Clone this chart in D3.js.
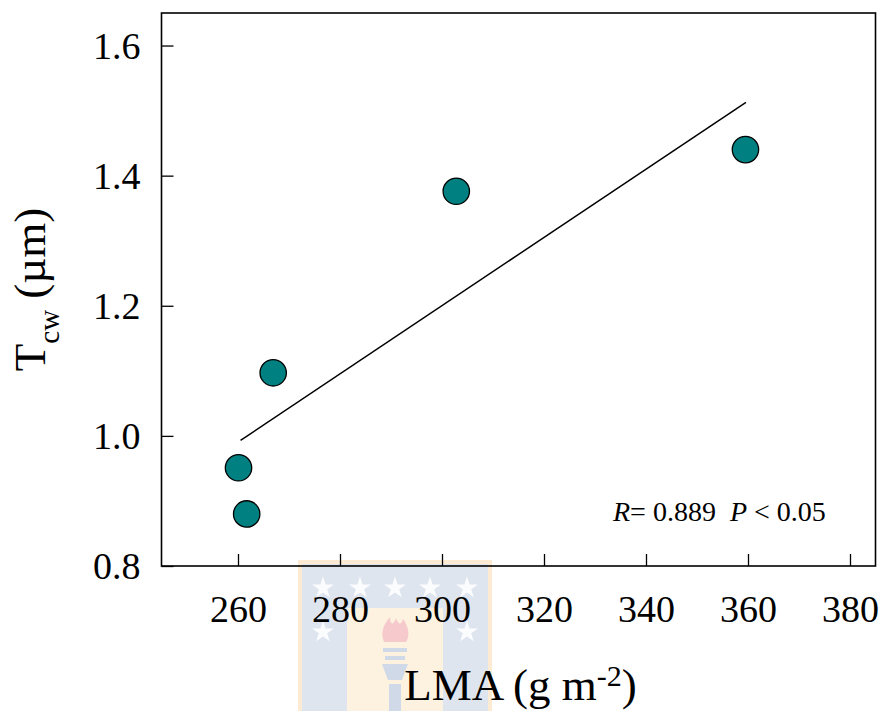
<!DOCTYPE html>
<html>
<head>
<meta charset="utf-8">
<script src="https://cdn.jsdelivr.net/npm/d3@7"></script>
<style>
  html, body { margin: 0; padding: 0; background: #fff; }
  svg, svg text { font-family: "Liberation Serif", "Times New Roman", serif; }
  svg { display: block; }
</style>
</head>
<body>
<svg id="chart" width="884" height="711"></svg>
<script>
// Leaf mass per area (g m-2) and cell wall thickness (µm)
const lma = [260.1, 261.7, 266.9, 302.8, 359.5];
const tcw = [0.951, 0.880, 1.097, 1.376, 1.440];
const xTicks = [260, 280, 300, 320, 340, 360, 380];
const yTicks = [0.8, 1.0, 1.2, 1.4, 1.6];
const statR = "0.889";
const statP = "0.05";

const serif = '"Liberation Serif", "Times New Roman", serif';
const svg = d3.select("#chart");
const plotL = 161.5, plotR = 875.5, plotT = 13, plotB = 566;

const x = d3.scaleLinear().domain([245, 385]).range([plotL, plotR]);
const y = d3.scaleLinear().domain([0.8, 1.65]).range([plotB, plotT]);

// Faint institutional emblem behind the x axis labels
const wm = svg.append("g").attr("class", "emblem");
wm.append("rect").attr("x", 298).attr("y", 560).attr("width", 194).attr("height", 151).attr("fill", "#fcebd2");
wm.append("rect").attr("x", 302).attr("y", 564).attr("width", 186).attr("height", 147).attr("fill", "#dfe5ee");
wm.append("rect").attr("x", 347).attr("y", 608).attr("width", 96).attr("height", 103).attr("fill", "#fdf1df");
const star = d3.symbol(d3.symbolStar, 150);
[[323, 588], [360, 588], [395, 588], [430, 588], [467, 588], [323, 632], [467, 632]].forEach(([sx, sy]) => {
  wm.append("path").attr("d", star()).attr("transform", `translate(${sx},${sy})`).attr("fill", "#fbfcfe");
});
wm.append("path")
  .attr("d", "M384,642 C380,632 384,624 390,617 C390,625 393,626 396,618 C398,624 401,626 403,619 C409,627 410,636 406,642 Z")
  .attr("fill", "#f6c9cc");
wm.append("rect").attr("x", 383).attr("y", 648).attr("width", 24).attr("height", 4).attr("fill", "#cfd9e7");
wm.append("rect").attr("x", 385).attr("y", 656).attr("width", 20).attr("height", 4).attr("fill", "#cfd9e7");
wm.append("path").attr("d", "M382,664 L408,664 L402,680 L388,680 Z").attr("fill", "#cfd9e7");
wm.append("rect").attr("x", 389).attr("y", 684).attr("width", 12).attr("height", 27).attr("fill", "#cfd9e7");

// Axes with inward ticks
const xAxis = svg.append("g")
  .attr("transform", `translate(0,${plotB})`)
  .call(d3.axisBottom(x).tickValues(xTicks).tickSizeInner(-12).tickSizeOuter(0).tickFormat(d3.format("d")));
xAxis.attr("font-family", null).attr("font-size", null);
xAxis.select(".domain").remove();
xAxis.selectAll(".tick line").attr("stroke", "#000").attr("stroke-width", 1.3);
xAxis.selectAll(".tick text")
  .attr("y", 56).attr("dy", 0)
  .attr("fill", "#000")
  .style("font-family", serif).style("font-size", "38px");

const yAxis = svg.append("g")
  .attr("transform", `translate(${plotL},0)`)
  .call(d3.axisLeft(y).tickValues(yTicks).tickSizeInner(-12).tickSizeOuter(0).tickFormat(d3.format(".1f")));
yAxis.attr("font-family", null).attr("font-size", null);
yAxis.select(".domain").remove();
yAxis.selectAll(".tick line").attr("stroke", "#000").attr("stroke-width", 1.3);
yAxis.selectAll(".tick text")
  .attr("x", -21).attr("dy", "0.34em")
  .attr("fill", "#000")
  .style("font-family", serif).style("font-size", "38px");

// Frame
svg.append("rect")
  .attr("x", plotL).attr("y", plotT)
  .attr("width", plotR - plotL).attr("height", plotB - plotT)
  .attr("fill", "none").attr("stroke", "#000").attr("stroke-width", 1.6);

// Least-squares fit across the observed LMA range
const mx = d3.mean(lma), my = d3.mean(tcw);
const sxy = d3.sum(lma, (v, i) => (v - mx) * (tcw[i] - my));
const sxx = d3.sum(lma, v => (v - mx) * (v - mx));
const slope = sxy / sxx, icpt = my - slope * mx;
const [x0, x1] = [260.5, 359.6];
svg.append("line")
  .attr("x1", x(x0)).attr("y1", y(icpt + slope * x0))
  .attr("x2", x(x1)).attr("y2", y(icpt + slope * x1))
  .attr("stroke", "#000").attr("stroke-width", 1.5);

// Points
svg.append("g").selectAll("circle")
  .data(lma.map((v, i) => ({ x: v, y: tcw[i] })))
  .join("circle")
  .attr("cx", d => x(d.x)).attr("cy", d => y(d.y))
  .attr("r", 13.2)
  .attr("fill", "#008080").attr("stroke", "#000").attr("stroke-width", 1.3);

// Correlation statistics
const stat = svg.append("text")
  .attr("x", 613).attr("y", 521)
  .attr("fill", "#000")
  .style("font-family", serif).style("font-size", "28px")
  .style("white-space", "pre");
stat.append("tspan").attr("font-style", "italic").text("R");
stat.append("tspan").text("= " + statR + "  ");
stat.append("tspan").attr("font-style", "italic").text("P");
stat.append("tspan").text(" < " + statP);

// Axis titles
const xt = svg.append("text")
  .attr("x", (plotL + plotR) / 2 + 2).attr("y", 700)
  .attr("text-anchor", "middle").attr("fill", "#000")
  .style("font-family", serif).style("font-size", "45px");
xt.append("tspan").text("LMA (g m");
xt.append("tspan").style("font-size", "30px").attr("dy", -14).text("-2");
xt.append("tspan").attr("dy", 14).text(")");

const yt = svg.append("text")
  .attr("transform", `translate(45,${(plotT + plotB) / 2}) rotate(-90)`)
  .attr("text-anchor", "middle").attr("fill", "#000")
  .style("font-family", serif).style("font-size", "45px")
  .style("white-space", "pre");
yt.append("tspan").text("T");
yt.append("tspan").style("font-size", "29px").attr("dy", 14).text("cw");
yt.append("tspan").attr("dy", -14).text(" (µm)");
</script>
</body>
</html>
